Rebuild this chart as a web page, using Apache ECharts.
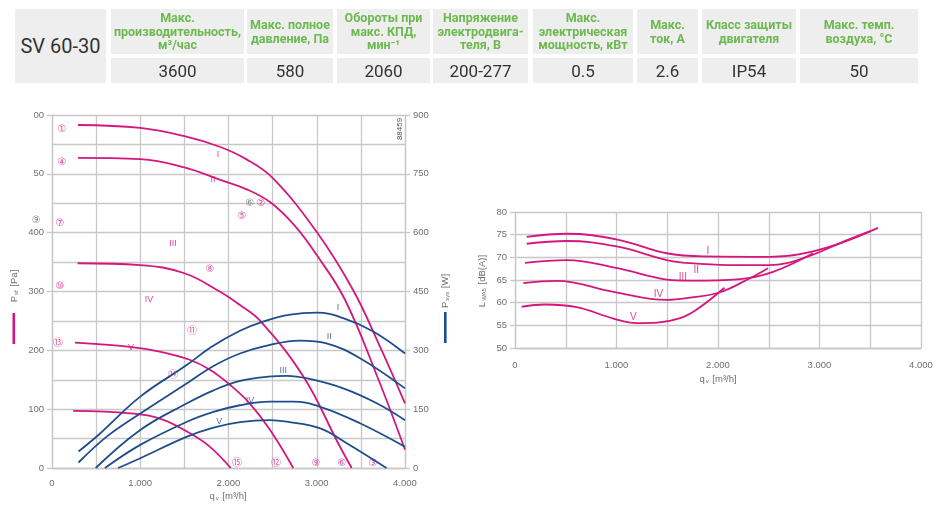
<!DOCTYPE html>
<html lang="ru">
<head>
<meta charset="UTF-8">
<title>SV 60-30</title>
<style>
  body { margin: 0; background: #fff; }
  #wrap { position: relative; width: 941px; height: 515px; overflow: hidden; font-family: Roboto, "Noto Sans", sans-serif; }
  #chart { position: absolute; left: 0; top: 0; width: 941px; height: 515px; }
  .cell { position: absolute; background: #eeeeee; display: flex; align-items: center; justify-content: center; text-align: center; white-space: pre-line; }
  .head { color: #6cb94f; font-weight: bold; font-size: 12.5px; line-height: 13.5px; }
  .val { color: #333; font-size: 17px; }
  .model { color: #333; font-size: 20px; }
</style>
</head>
<body>
<div id="wrap">
  <div id="chart"></div>
  <div id="table"></div>
</div>
<script src="https://cdn.jsdelivr.net/npm/echarts@6/dist/echarts.min.js"></script>
<script>
// ---- table ----
const modelName = 'SV 60-30';
const headers = [
  'Макс.\nпроизводительность,\nм³/час',
  'Макс. полное\nдавление, Па',
  'Обороты при\nмакс. КПД,\nмин⁻¹',
  'Напряжение\nэлектродвига-\nтеля, В',
  'Макс.\nэлектрическая\nмощность, кВт',
  'Макс.\nток, А',
  'Класс защиты\nдвигателя',
  'Макс. темп.\nвоздуха, °С'
];
const values = ['3600', '580', '2060', '200-277', '0.5', '2.6', 'IP54', '50'];

// ---- left chart: pressure (Pa) and power (W) vs q_v ----
const xTickLabels = ['0', '1.000', '2.000', '3.000', '4.000'];
const paTickLabels = ['0', '100', '200', '300', '400', '50', '00'];
const wTickLabels = ['0', '150', '300', '450', '600', '750', '900'];
const dbTickLabels = ['50', '55', '60', '65', '70', '75', '80'];

const pressureI = [[295, 583], [1000, 578], [1500, 564], [1900, 546], [2200, 525], [2500, 493], [3000, 401], [3410, 303], [3700, 212], [4000, 110]];
const pressureII = [[295, 527], [1000, 525], [1500, 511], [1900, 490], [2200, 474], [2470, 452], [2750, 412], [3000, 362], [3320, 286], [3700, 150], [4000, 31]];
const pressureIII = [[290, 348], [1000, 345], [1500, 331], [1900, 300], [2130, 277], [2360, 250], [2850, 155], [3250, 40], [3396, 0]];
const pressureIV = [[260, 213], [880, 206], [1220, 198], [1560, 184], [1790, 167], [2020, 141], [2240, 110], [2470, 65], [2734, 0]];
const pressureV = [[240, 97], [884, 93], [1224, 84], [1564, 59], [1790, 36], [2025, 0]];

const powerI = [[300, 42], [545, 88], [1000, 182], [1530, 263], [1800, 308], [2130, 350], [2400, 374], [2700, 391], [3000, 396], [3300, 382], [3640, 348], [4000, 292]];
const powerII = [[300, 14], [620, 80], [1000, 139], [1530, 216], [1830, 260], [2130, 292], [2470, 314], [2810, 325], [3110, 318], [3490, 280], [4000, 203]];
const powerIII = [[495, 0], [1000, 97], [1530, 165], [1830, 198], [2130, 222], [2450, 233], [2660, 235], [2920, 227], [3300, 203], [3680, 165], [4000, 122]];
const powerIV = [[600, 0], [1000, 59], [1530, 118], [1830, 143], [2130, 160], [2470, 169], [2730, 169], [3040, 156], [3490, 114], [4000, 54]];
const powerV = [[750, 0], [1000, 25], [1530, 80], [1830, 103], [2130, 117], [2470, 122], [2660, 118], [3040, 101], [3340, 63], [3790, 0]];

// curve labels [text, q, value]
const pressureLabels = [['I', 1881, 532], ['II', 1824, 490], ['III', 1371, 382], ['IV', 1099, 286], ['V', 895, 204]];
const powerLabels = [['I', 3241, 410], ['II', 3142, 335], ['III', 2621, 248], ['IV', 2244, 172], ['V', 1896, 118]];

// circled markers [text, q, Pa]
const markers = [
  ['①', 113, 576], ['④', 113, 520], ['⑦', 91, 415], ['⑩', 91, 308], ['⑬', 68, 212],
  ['②', 2368, 450], ['⑤', 2153, 427], ['⑧', 1790, 337], ['⑪', 1586, 233], ['⑭', 1371, 158],
  ['③', 3637, 8], ['⑥', 3286, 8], ['⑨', 2991, 8], ['⑫', 2538, 8], ['⑮', 2096, 8]
];
const greyMarkers = [['⑨', -180, 420], ['⑥', 2244, 450]];

// ---- right chart: sound power level vs q_v ----
const soundI = [[115, 74.5], [509, 75.2], [1009, 73.9], [1495, 70.9], [1889, 70.2], [2512, 70.1], [2808, 70.7], [3202, 73.1], [3576, 76.5]];
const soundII = [[115, 73.0], [509, 73.6], [1002, 72.4], [1495, 69.4], [1724, 68.7], [2100, 68.3], [2512, 68.3], [2837, 69.8], [3271, 73.8], [3500, 75.8]];
const soundIII = [[99, 68.8], [509, 69.4], [1009, 67.6], [1495, 65.1], [1724, 64.85], [2217, 65.2], [2542, 66.8], [2936, 70.9]];
const soundIV = [[82, 64.3], [411, 64.8], [970, 62.4], [1495, 60.6], [1724, 61.1], [2020, 62.3], [2315, 65.4], [2493, 67.6]];
const soundV = [[66, 59.1], [296, 59.6], [608, 59.0], [970, 56.5], [1200, 55.5], [1400, 55.6], [1627, 56.6], [1791, 58.5], [2064, 63.3]];
const soundLabels = [['I', 1900, 71.3], ['II', 1785, 67.1], ['III', 1654, 65.7], ['IV', 1413, 61.9], ['V', 1167, 56.8]];

// ---- build table ----
const colX = [[111, 244], [247, 333], [337, 430], [433, 528], [533, 633], [637, 698], [702, 796], [800, 918]];
let tbl = document.getElementById('table');
let html = '<div class="cell model" style="left:15px;top:9px;width:91px;height:74px;">' + modelName + '</div>';
headers.forEach(function (h, i) {
  let c = colX[i];
  html += '<div class="cell head" style="left:' + c[0] + 'px;top:9px;width:' + (c[1] - c[0]) + 'px;height:45px;">' + h + '</div>';
  html += '<div class="cell val" style="left:' + c[0] + 'px;top:58px;width:' + (c[1] - c[0]) + 'px;height:25px;">' + values[i] + '</div>';
});
tbl.innerHTML = html;

// ---- chart ----
const MAG = '#d4177f';
const BLUE = '#1f4d8c';
const GRID = '#c8c8c8';
const LBL = '#6f6f6f';
const FONT = 'Liberation Sans, Arial, sans-serif';

let chart = echarts.init(document.getElementById('chart'));

function line(data, color, xi, yi) {
  return {
    type: 'line', data: data, xAxisIndex: xi, yAxisIndex: yi,
    smooth: 0.4, showSymbol: false, silent: true,
    lineStyle: { color: color, width: 1.8 }
  };
}
function textSeries(list, color, xi, yi, size, family) {
  return {
    type: 'scatter', xAxisIndex: xi, yAxisIndex: yi, symbolSize: 0, silent: true, clip: false,
    data: list.map(function (d) { return { name: d[0], value: [d[1], d[2]] }; }),
    label: { show: true, position: 'inside', formatter: '{b}', color: color, fontSize: size, fontFamily: family || FONT }
  };
}
function axisCommon(labels, interval, base) {
  return {
    axisLine: { show: true, lineStyle: { color: GRID, width: 1.3 } },
    splitLine: { show: true, lineStyle: { color: GRID, width: 1.3 } },
    axisLabel: {
      color: LBL, fontSize: 9.5, fontFamily: FONT,
      formatter: function (v) { return labels[Math.round((v - base) / interval)]; }
    }
  };
}

let xLeft = Object.assign(axisCommon(xTickLabels, 1000, 0), {
  type: 'value', gridIndex: 0, min: 0, max: 4000, interval: 1000,
  axisTick: { show: false },
  minorTick: { show: false, splitNumber: 2 },
  minorSplitLine: { show: true, lineStyle: { color: GRID, width: 1.3 } }
});
xLeft.axisLabel.margin = 10;
let xRight = Object.assign(axisCommon(xTickLabels, 1000, 0), {
  type: 'value', gridIndex: 1, min: 0, max: 4000, interval: 1000,
  axisTick: { show: false },
  minorTick: { show: false, splitNumber: 2 },
  minorSplitLine: { show: true, lineStyle: { color: GRID, width: 1.3 } }
});
xRight.axisLabel.margin = 12;
let yPa = Object.assign(axisCommon(paTickLabels, 100, 0), {
  type: 'value', gridIndex: 0, position: 'left', min: 0, max: 600, interval: 100,
  axisTick: { show: true, length: 5, lineStyle: { color: GRID, width: 1.3 } },
  minorTick: { show: false, splitNumber: 2 },
  minorSplitLine: { show: true, lineStyle: { color: GRID, width: 1.3 } }
});
yPa.axisLabel.margin = 8;
let yW = Object.assign(axisCommon(wTickLabels, 150, 0), {
  type: 'value', gridIndex: 0, position: 'right', min: 0, max: 900, interval: 150,
  axisTick: { show: true, length: 5, lineStyle: { color: GRID, width: 1.3 } }
});
yW.splitLine = { show: false };
yW.axisLabel.margin = 8;
let yDb = Object.assign(axisCommon(dbTickLabels, 5, 50), {
  type: 'value', gridIndex: 1, min: 50, max: 80, interval: 5,
  axisTick: { show: true, length: 5, lineStyle: { color: GRID, width: 1.3 } }
});
yDb.axisLabel.margin = 8;

let option = {
  animation: false,
  grid: [
    { left: 52, top: 115, width: 353, height: 353 },
    { left: 515, top: 212, width: 406, height: 136 }
  ],
  xAxis: [xLeft, xRight],
  yAxis: [yPa, yW, yDb],
  graphic: [
    { type: 'text', x: 14, y: 286, rotation: Math.PI / 2,
      style: { text: 'P{s|sf} [Pa]', fill: LBL, font: '9.5px ' + FONT, align: 'center', verticalAlign: 'middle',
        rich: { s: { fontSize: 6, fill: LBL, padding: [5, 1, 0, 1] } } } },
    { type: 'rect', shape: { x: 12.5, y: 313, width: 2.6, height: 31 }, style: { fill: MAG } },
    { type: 'text', x: 445, y: 291, rotation: Math.PI / 2,
      style: { text: 'P{s|sys} [W]', fill: LBL, font: '9.5px ' + FONT, align: 'center', verticalAlign: 'middle',
        rich: { s: { fontSize: 6, fill: LBL, padding: [5, 1, 0, 1] } } } },
    { type: 'rect', shape: { x: 444, y: 312, width: 2.6, height: 31 }, style: { fill: BLUE } },
    { type: 'text', x: 400, y: 129, rotation: Math.PI / 2,
      style: { text: '88459', fill: '#555', font: '8px ' + FONT, align: 'center', verticalAlign: 'middle' } },
    { type: 'text', x: 228, y: 496,
      style: { text: 'q{s|v} [m³/h]', fill: LBL, font: '9.5px ' + FONT, align: 'center', verticalAlign: 'middle',
        rich: { s: { fontSize: 6, fill: LBL, padding: [5, 1, 0, 1] } } } },
    { type: 'text', x: 718, y: 379,
      style: { text: 'q{s|v} [m³/h]', fill: LBL, font: '9.5px ' + FONT, align: 'center', verticalAlign: 'middle',
        rich: { s: { fontSize: 6, fill: LBL, padding: [5, 1, 0, 1] } } } },
    { type: 'text', x: 482, y: 281, rotation: Math.PI / 2,
      style: { text: 'L{s|WA5} [dB(A)]', fill: LBL, font: '9.5px ' + FONT, align: 'center', verticalAlign: 'middle',
        rich: { s: { fontSize: 6, fill: LBL, padding: [5, 1, 0, 1] } } } }
  ],
  series: [
    line(pressureI, MAG, 0, 0), line(pressureII, MAG, 0, 0), line(pressureIII, MAG, 0, 0),
    line(pressureIV, MAG, 0, 0), line(pressureV, MAG, 0, 0),
    line(powerI, BLUE, 0, 1), line(powerII, BLUE, 0, 1), line(powerIII, BLUE, 0, 1),
    line(powerIV, BLUE, 0, 1), line(powerV, BLUE, 0, 1),
    line(soundI, MAG, 1, 2), line(soundII, MAG, 1, 2), line(soundIII, MAG, 1, 2),
    line(soundIV, MAG, 1, 2), line(soundV, MAG, 1, 2),
    textSeries(pressureLabels, MAG, 0, 0, 9),
    textSeries(powerLabels, BLUE, 0, 1, 9),
    textSeries(soundLabels, MAG, 1, 2, 10),
    textSeries(markers, MAG, 0, 0, 10, 'DejaVu Sans, Noto Sans CJK JP, sans-serif'),
    textSeries(greyMarkers, '#666', 0, 0, 10, 'DejaVu Sans, Noto Sans CJK JP, sans-serif')
  ]
};
chart.setOption(option);
</script>
</body>
</html>
